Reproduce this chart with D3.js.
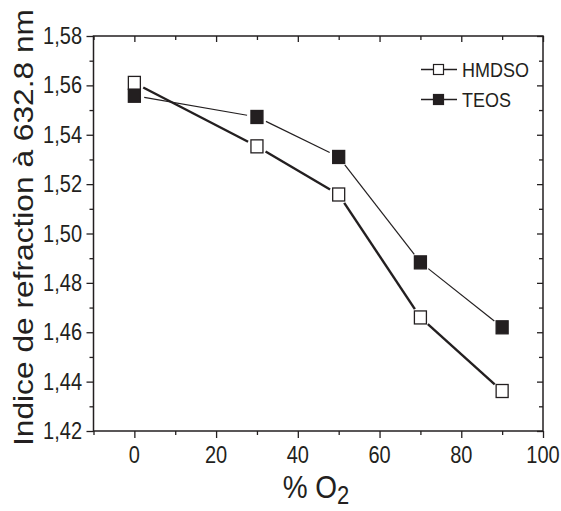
<!DOCTYPE html>
<html>
<head>
<meta charset="utf-8">
<script src="https://cdn.jsdelivr.net/npm/d3@7"></script>
<style>
  body { margin: 0; background: #fff; }
  svg text { font-family: "Liberation Sans", Arial, sans-serif; fill: #231f20; }
</style>
</head>
<body>
<svg width="561" height="511"></svg>
<script>
// data
const oxygen = [0, 30, 50, 70, 90];
const hmdso = [1.561, 1.5353, 1.5158, 1.466, 1.4362];
const teos = [1.5558, 1.5472, 1.531, 1.4883, 1.462];
const xTicks = [0, 20, 40, 60, 80, 100];
const xMinor = [-10, 10, 30, 50, 70, 90];
const yTicks = [1.42, 1.44, 1.46, 1.48, 1.50, 1.52, 1.54, 1.56, 1.58];
const yMinor = [1.43, 1.45, 1.47, 1.49, 1.51, 1.53, 1.55, 1.57];

const ink = "#231f20";
const stretch = 1.15; // the text in the picture is a bit taller than wide

const svg = d3.select("svg");
const x = d3.scaleLinear().domain([-10, 100]).range([93.5, 543]);
const y = d3.scaleLinear().domain([1.42, 1.58]).range([431, 36]);

const comma = v => d3.format(".2f")(v).replace(".", ",");

// frame
svg.append("rect")
  .attr("x", x(-10)).attr("y", y(1.58))
  .attr("width", x(100) - x(-10)).attr("height", y(1.42) - y(1.58))
  .attr("fill", "none").attr("stroke", ink).attr("stroke-width", 1.5);

function styleAxis(g) {
  g.select(".domain").remove();
  g.selectAll("line").attr("stroke", ink).attr("stroke-width", 1.3);
}

// bottom
svg.append("g").attr("transform", `translate(0,${y(1.42)})`)
  .call(d3.axisBottom(x).tickValues(xTicks).tickSize(7).tickFormat(""))
  .call(styleAxis);
svg.append("g").attr("transform", `translate(0,${y(1.42)})`)
  .call(d3.axisBottom(x).tickValues(xMinor).tickSize(4).tickFormat(""))
  .call(styleAxis);
// top (inward)
svg.append("g").attr("transform", `translate(0,${y(1.58)})`)
  .call(d3.axisBottom(x).tickValues(xTicks).tickSize(6).tickFormat(""))
  .call(styleAxis);
svg.append("g").attr("transform", `translate(0,${y(1.58)})`)
  .call(d3.axisBottom(x).tickValues(xMinor).tickSize(4).tickFormat(""))
  .call(styleAxis);
// left
svg.append("g").attr("transform", `translate(${x(-10)},0)`)
  .call(d3.axisLeft(y).tickValues(yTicks).tickSize(7).tickFormat(""))
  .call(styleAxis);
svg.append("g").attr("transform", `translate(${x(-10)},0)`)
  .call(d3.axisLeft(y).tickValues(yMinor).tickSize(4).tickFormat(""))
  .call(styleAxis);
// right (inward)
svg.append("g").attr("transform", `translate(${x(100)},0)`)
  .call(d3.axisLeft(y).tickValues(yTicks).tickSize(6).tickFormat(""))
  .call(styleAxis);
svg.append("g").attr("transform", `translate(${x(100)},0)`)
  .call(d3.axisLeft(y).tickValues(yMinor).tickSize(4).tickFormat(""))
  .call(styleAxis);

// tick labels
svg.append("g").selectAll("text").data(xTicks).join("text")
  .attr("transform", d => `translate(${x(d)},463) scale(1,${stretch})`)
  .attr("text-anchor", "middle").attr("font-size", 20)
  .text(d => d);
svg.append("g").selectAll("text").data(yTicks).join("text")
  .attr("transform", d => `translate(82,${y(d) + 8}) scale(1,${stretch})`)
  .attr("text-anchor", "end").attr("font-size", 20)
  .text(comma);

// axis titles
const xt = svg.append("text")
  .attr("transform", `translate(316,498) scale(1,${stretch})`)
  .attr("text-anchor", "middle").attr("font-size", 28);
xt.append("tspan").text("% O");
xt.append("tspan").attr("font-size", 22).attr("dy", 5).text("2");

svg.append("text")
  .attr("transform", "translate(33,227.5) rotate(-90)")
  .attr("text-anchor", "middle").attr("font-size", 28)
  .attr("textLength", 437).attr("lengthAdjust", "spacingAndGlyphs")
  .text("Indice de refraction à 632.8 nm");

// series
const series = [
  { name: "HMDSO", values: hmdso, fill: "#fff", width: 2.4 },
  { name: "TEOS", values: teos, fill: ink, width: 1.2 }
];
const mw = 12, mh = 13, gap = 10;

series.forEach(s => {
  const pts = oxygen.map((o, i) => [x(o), y(s.values[i])]);
  const segs = d3.pairs(pts).map(([a, b]) => {
    const dx = b[0] - a[0], dy = b[1] - a[1];
    const len = Math.hypot(dx, dy);
    const ux = dx / len, uy = dy / len;
    return [a[0] + ux * gap, a[1] + uy * gap, b[0] - ux * gap, b[1] - uy * gap];
  });
  svg.append("g").selectAll("line").data(segs).join("line")
    .attr("x1", d => d[0]).attr("y1", d => d[1])
    .attr("x2", d => d[2]).attr("y2", d => d[3])
    .attr("stroke", ink).attr("stroke-width", s.width);
  svg.append("g").selectAll("rect").data(pts).join("rect")
    .attr("x", d => d[0] - mw / 2).attr("y", d => d[1] - mh / 2)
    .attr("width", mw).attr("height", mh)
    .attr("fill", s.fill).attr("stroke", ink).attr("stroke-width", 1.3);
});

// legend
const legend = svg.append("g");
series.forEach((s, i) => {
  const ly = 69.5 + i * 30;
  legend.append("line").attr("x1", 421).attr("x2", 433).attr("y1", ly).attr("y2", ly)
    .attr("stroke", ink).attr("stroke-width", 1.5);
  legend.append("line").attr("x1", 444).attr("x2", 457).attr("y1", ly).attr("y2", ly)
    .attr("stroke", ink).attr("stroke-width", 1.5);
  legend.append("rect").attr("x", 433.5).attr("y", ly - 5).attr("width", 10).attr("height", 10)
    .attr("fill", s.fill).attr("stroke", ink).attr("stroke-width", 1.2);
  legend.append("text")
    .attr("transform", `translate(462,${ly + 7.5}) scale(1,${stretch})`)
    .attr("font-size", 18).text(s.name);
});
</script>
</body>
</html>
